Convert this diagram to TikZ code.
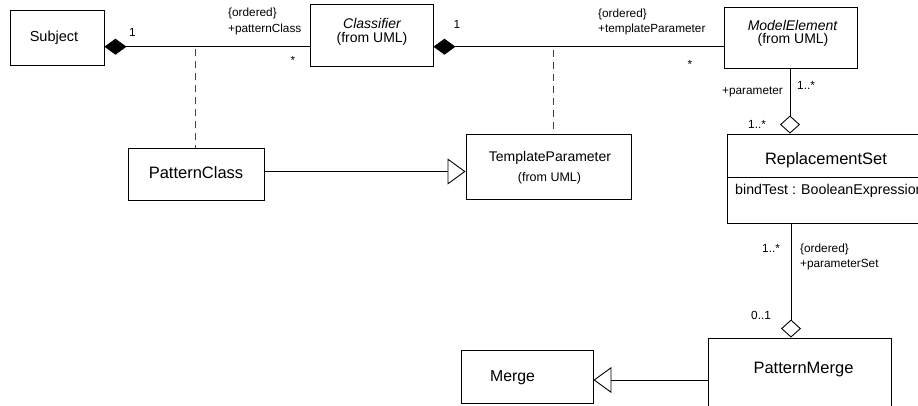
\documentclass[tikz,border=0pt]{standalone}
\usepackage{fontspec}
\setmainfont{Liberation Sans}
\usetikzlibrary{arrows.meta}
\newcommand\fsz[1]{\fontsize{#1}{#1}\selectfont}
\begin{document}
\begin{tikzpicture}[x=1pt,y=-1pt,
  classbox/.style={draw, line width=0.9pt, inner sep=0pt, fill=white},
  conn/.style={line width=0.9pt},
  comp/.style={conn, {Diamond[length=22pt,width=16pt]}-},
  aggr/.style={conn, -{Diamond[open,length=18pt,width=20pt]}},
  gen/.style={conn, -{Triangle[open,length=18pt,width=26pt]}},
  assocclass/.style={line width=0.9pt, dash pattern=on 7pt off 5pt, black!75},
  txt/.style={inner sep=0pt, anchor=base},
  tag/.style={inner sep=0pt, anchor=base west, font=\fsz{11.8}}
]
\useasboundingbox (0,0) rectangle (918,405);
\clip (0,0) rectangle (918,405);

% ---- classes ----
\node[classbox, minimum width=94pt, minimum height=55pt] (subj) at (57,37.5) {};
\node[txt, font=\fsz{14.5}] (subjname) at (54,41) {Subject};

\node[classbox, minimum width=123pt, minimum height=62pt] (cls) at (371.5,35) {};
\node[txt, font=\fsz{14}\itshape] (clsname) at (372,28.3) {Classifier};
\node[txt, font=\fsz{14}] (clspkg) at (372,42) {(from UML)};

\node[classbox, minimum width=133pt, minimum height=61pt] (me) at (790.5,37.5) {};
\node[txt, font=\fsz{14}\itshape] (mename) at (792.5,30) {ModelElement};
\node[txt, font=\fsz{14}] (mepkg) at (793,43.3) {(from UML)};

\node[classbox, minimum width=136pt, minimum height=52pt] (pc) at (196,174) {};
\node[txt, font=\fsz{16.5}] (pcname) at (196,178.3) {PatternClass};

\node[classbox, minimum width=165pt, minimum height=65pt] (tp) at (548.5,166.5) {};
\node[txt, font=\fsz{14}] (tpname) at (550,161.7) {TemplateParameter};
\node[txt, font=\fsz{12.5}] (tppkg) at (549.5,181.7) {(from UML)};

\node[classbox, minimum width=200pt, minimum height=89pt] (rs) at (827,178.5) {};
\coordinate (rsdiv) at (727,177);
\draw[conn] (rsdiv) -- (rsdiv -| rs.east);
\node[txt, font=\fsz{16.5}] (rsname) at (826,164.3) {ReplacementSet};
\node[txt, anchor=base west, font=\fsz{14.2}] (rsattr) at (735,194) {bindTest : BooleanExpression};

\node[classbox, minimum width=183pt, minimum height=80pt] (pm) at (799.5,378) {};
\node[txt, font=\fsz{16.5}] (pmname) at (803.5,373.3) {PatternMerge};

\node[classbox, minimum width=132pt, minimum height=53pt] (mg) at (527,376.5) {};
\node[txt, font=\fsz{15.8}] (mgname) at (512.5,381) {Merge};

% ---- compositions ----
\draw[comp] (subj.east |- 0,46.7) -- (cls.west |- 0,46.7);
\draw[comp] (cls.east |- 0,46.7) -- (me.west |- 0,46.7);

% ---- association class links ----
\coordinate (ac1) at (195,48.5);
\draw[assocclass] (ac1) -- (ac1 |- pc.north);
\coordinate (ac2) at (553,50);
\draw[assocclass] (ac2) -- (ac2 |- tp.north);

% ---- generalizations ----
\draw[gen] (pc.east |- 0,171.5) -- (tp.west |- 0,171.5);
\draw[gen] (pm.west |- 0,380) -- (mg.east |- 0,380);

% ---- aggregations ----
\draw[aggr] (me.south -| 790,0) -- (rs.north -| 790,0);
\draw[aggr] (rs.south -| 791,0) -- (pm.north -| 791,0);

% ---- roles and multiplicities ----
\node[tag] (m1) at (129,36.7) {1};
\node[tag] (r1a) at (228,16.7) {\{ordered\}};
\node[tag] (r1b) at (228,32.7) {+patternClass};
\node[tag] (m2) at (290.5,64) {*};
\node[tag] (m3) at (453.5,28.3) {1};
\node[tag] (r2a) at (598,17) {\{ordered\}};
\node[tag] (r2b) at (598,32) {+templateParameter};
\node[tag] (m4) at (687.5,68.8) {*};
\node[tag] (r3) at (722,94) {+parameter};
\node[tag] (m5) at (797,89.5) {1..*};
\node[tag] (m6) at (748,128) {1..*};
\node[tag] (m7) at (762,252) {1..*};
\node[tag] (r4a) at (800,252) {\{ordered\}};
\node[tag] (r4b) at (800,267) {+parameterSet};
\node[tag] (m8) at (751,319) {0..1};
\end{tikzpicture}
\end{document}
